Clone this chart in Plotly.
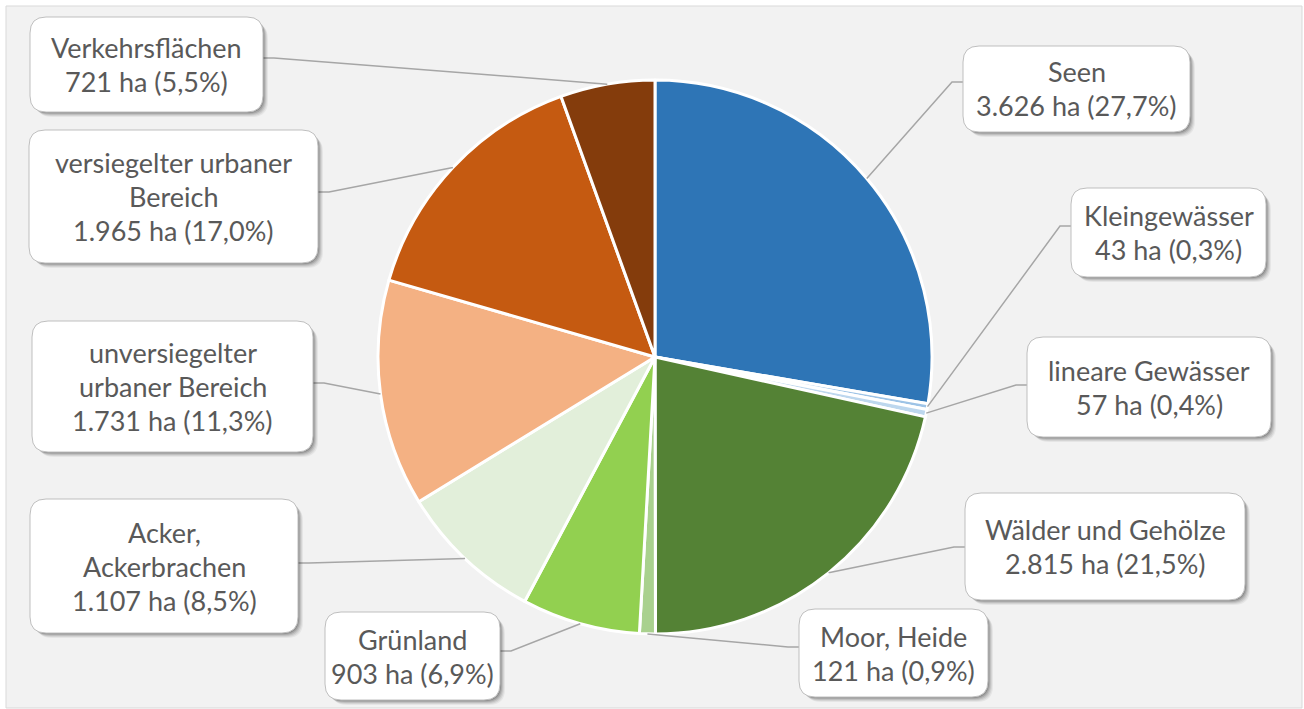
import math
import plotly.graph_objects as go

# ---------------- data ----------------
categories = ["Seen", "Kleingewässer", "lineare Gewässer", "Wälder und Gehölze",
              "Moor, Heide", "Grünland", "Acker, Ackerbrachen",
              "unversiegelter urbaner Bereich", "versiegelter urbaner Bereich",
              "Verkehrsflächen"]
values = [3626, 43, 57, 2815, 121, 903, 1107, 1731, 1965, 721]
value_labels = ["3.626 ha", "43 ha", "57 ha", "2.815 ha", "121 ha", "903 ha",
                "1.107 ha", "1.731 ha", "1.965 ha", "721 ha"]
percent_labels = ["27,7%", "0,3%", "0,4%", "21,5%", "0,9%", "6,9%",
                  "8,5%", "11,3%", "17,0%", "5,5%"]
# how each label's name is broken into lines in its callout
name_lines = [["Seen"], ["Kleingewässer"], ["lineare Gewässer"], ["Wälder und Gehölze"],
              ["Moor, Heide"], ["Grünland"], ["Acker,", "Ackerbrachen"],
              ["unversiegelter", "urbaner Bereich"], ["versiegelter urbaner", "Bereich"],
              ["Verkehrsflächen"]]
colors = ["#2E75B6", "#9DC3E6", "#BDD7EE", "#548235", "#A9D18E", "#92D050",
          "#E2EFDA", "#F4B183", "#C55A11", "#843C0C"]

# ---------------- layout constants (pixels) ----------------
W, H = 1304, 709
CX, CY, R = 655, 357, 277
# callout boxes: x0, y0, x1, y1, attach side, attach y
boxes = [
    (963, 46, 1190, 132, "L", 82),
    (1071, 188, 1266, 277, "L", 226),
    (1027, 337, 1271, 437, "L", 385),
    (965, 493, 1245, 600, "L", 547),
    (799, 609, 988, 697, "L", 647),
    (325, 612, 500, 700, "R", 651),
    (30, 499, 298, 633, "R", 563),
    (32, 321, 313, 452, "R", 383),
    (29, 130, 318, 263, "R", 192),
    (30, 17, 263, 112, "R", 58),
]

def px(x):
    return x / W

def py(y):
    return 1 - y / H

def rounded_path(x0, y0, x1, y1, r):
    pts = [
        f"M {px(x0 + r)} {py(y0)}",
        f"L {px(x1 - r)} {py(y0)}",
        f"Q {px(x1)} {py(y0)} {px(x1)} {py(y0 + r)}",
        f"L {px(x1)} {py(y1 - r)}",
        f"Q {px(x1)} {py(y1)} {px(x1 - r)} {py(y1)}",
        f"L {px(x0 + r)} {py(y1)}",
        f"Q {px(x0)} {py(y1)} {px(x0)} {py(y1 - r)}",
        f"L {px(x0)} {py(y0 + r)}",
        f"Q {px(x0)} {py(y0)} {px(x0 + r)} {py(y0)}",
        "Z",
    ]
    return " ".join(pts)

fig = go.Figure()

fig.add_trace(go.Pie(
    labels=categories,
    values=values,
    sort=False,
    direction="clockwise",
    rotation=0,
    textinfo="none",
    hoverinfo="label+value",
    marker=dict(colors=colors, line=dict(color="white", width=3)),
    domain=dict(x=[px(CX - R), px(CX + R)], y=[py(CY + R), py(CY - R)]),
    showlegend=False,
))

shapes = []
annotations = []

# chart frame
shapes.append(dict(type="rect", xref="paper", yref="paper", layer="below",
                   x0=px(6), x1=px(1302), y0=py(708), y1=py(6),
                   fillcolor="#F2F2F2", line=dict(color="#D9D9D9", width=1)))

total = sum(values)
cum = 0.0
LINE_H = 34
for i, v in enumerate(values):
    mid = (cum + v / 2) / total * 2 * math.pi
    cum += v
    sx = CX + R * math.sin(mid)
    sy = CY - R * math.cos(mid)
    x0, y0, x1, y1, side, ay = boxes[i]
    bx = x0 if side == "L" else x1
    ex = bx - 11 if side == "L" else bx + 11
    shapes.append(dict(type="path", xref="paper", yref="paper", layer="above",
                       path=f"M {px(sx)} {py(sy)} L {px(ex)} {py(ay)} L {px(bx)} {py(ay)}",
                       line=dict(color="#A6A6A6", width=1.5)))
    # shadow layers
    for off, op in [(6, 0.05), (5, 0.07), (4, 0.09), (3, 0.12), (2, 0.15)]:
        shapes.append(dict(type="path", xref="paper", yref="paper", layer="above",
                           path=rounded_path(x0 + off, y0 + off, x1 + off - 1, y1 + off - 1, 16),
                           fillcolor="rgba(0,0,0,1)", opacity=op, line=dict(width=0)))
    shapes.append(dict(type="path", xref="paper", yref="paper", layer="above",
                       path=rounded_path(x0, y0, x1, y1, 16),
                       fillcolor="white", line=dict(color="#BFBFBF", width=1)))
    lines = name_lines[i] + [f"{value_labels[i]} ({percent_labels[i]})"]
    n = len(lines)
    cyb = (y0 + y1) / 2
    for k, t in enumerate(lines):
        ly = cyb + (k - (n - 1) / 2) * LINE_H
        annotations.append(dict(x=px((x0 + x1) / 2), y=py(ly), xref="paper", yref="paper",
                                text=t, showarrow=False, xanchor="center", yanchor="middle",
                                font=dict(family="Lato", size=27, color="#595959")))

fig.update_layout(
    width=W, height=H,
    margin=dict(l=0, r=0, t=0, b=0),
    paper_bgcolor="white",
    plot_bgcolor="white",
    shapes=shapes,
    annotations=annotations,
)

fig.write_html("out.html",
               config={"displayModeBar": False},
               post_script="document.body.style.margin='0';document.body.style.overflow='hidden';")
